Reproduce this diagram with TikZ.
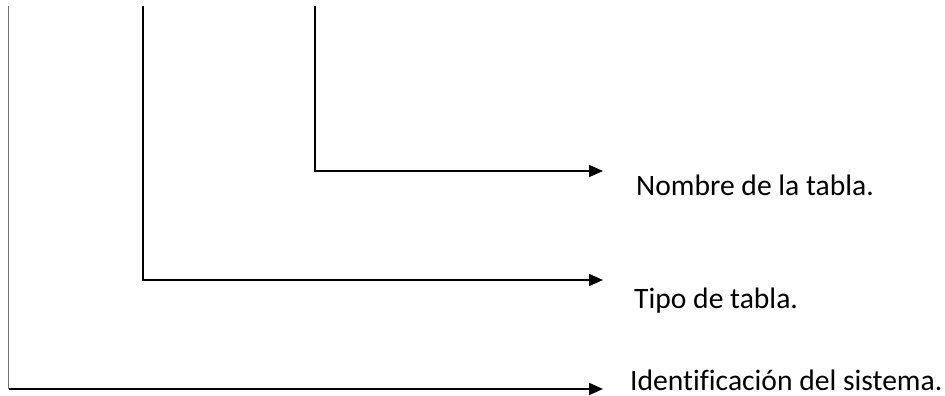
\documentclass[tikz,border=0pt]{standalone}
\usepackage{fontspec}
\setmainfont[Ligatures=NoCommon]{Carlito}
\usetikzlibrary{arrows.meta}
\begin{document}
\begin{tikzpicture}[x=1pt,y=-1pt,
  conn/.style={line width=1.6pt,-{Triangle[length=14pt,width=12pt]}},
  lbl/.style={anchor=base west,inner sep=0pt,font=\fontsize{29.6}{35}\selectfont}]
\useasboundingbox (0,0) rectangle (945,396);
% start points and arrow tips
\coordinate (s1) at (315,6);
\coordinate (s2) at (143,6);
\coordinate (s3) at (8.5,6);
\coordinate (t1) at (603,171);
\coordinate (t2) at (603,280);
\coordinate (t3) at (603,389);
% labels
\node[lbl] (nombre) at (636,195) {Nombre de la tabla.};
\node[lbl] (tipo) at (634,308) {Tipo de tabla.};
\node[lbl] (ident) at (630,390) {Identificación del sistema.};
% connectors
\draw[conn] (s1) |- (t1);
\draw[conn] (s2) |- (t2);
\draw[draw=black!55,line width=1.2pt] (s3) -- (s3 |- t3);
\draw[conn,line width=2pt] (s3 |- t3) -- (t3);
\end{tikzpicture}
\end{document}
